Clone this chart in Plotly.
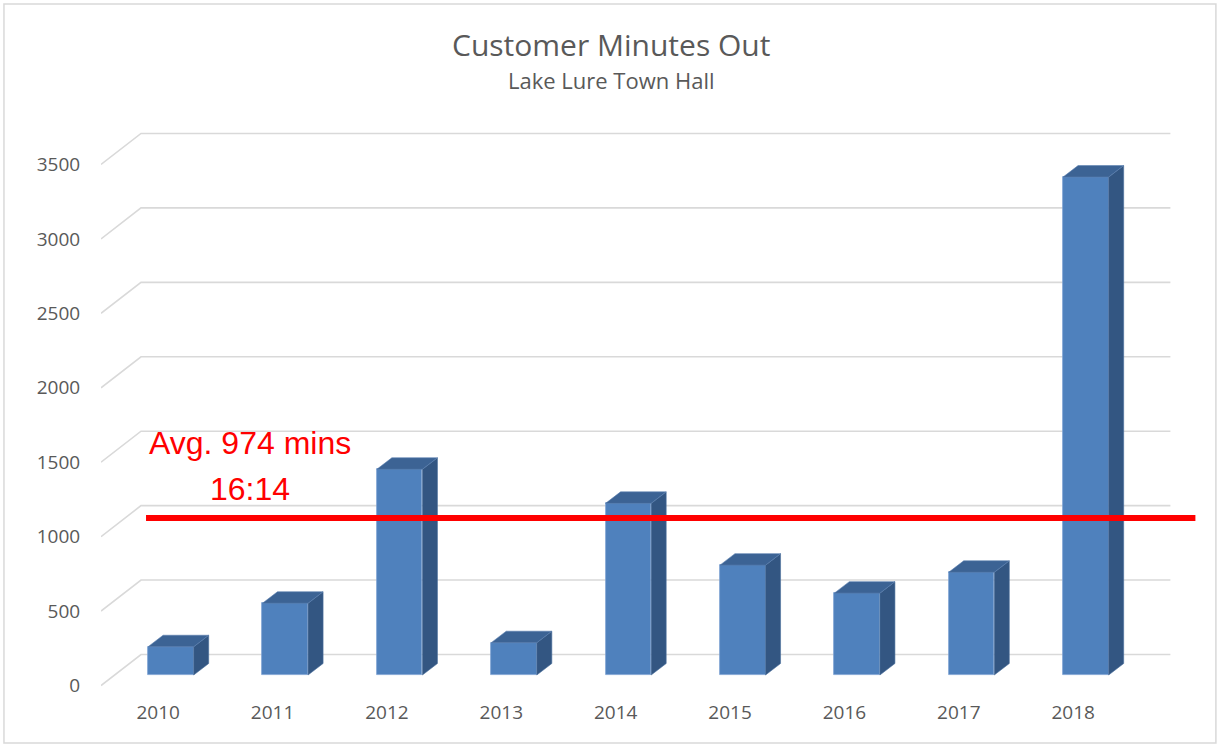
import plotly.graph_objects as go

# ---------------- data ----------------
years = ["2010", "2011", "2012", "2013", "2014", "2015", "2016", "2017", "2018"]
minutes = [190, 482, 1382, 217, 1153, 738, 550, 690, 3345]
y_ticks = [0, 500, 1000, 1500, 2000, 2500, 3000, 3500]
avg_label = "Avg. 974 mins"
avg_time = "16:14"
avg_line_value = 1125
title_text = "Customer Minutes Out"
subtitle_text = "Lake Lure Town Hall"

# ---------------- geometry (pixels) ----------------
W, H = 1217, 746
L, R = 101, 1198.6
T, B = 100, 699
PX_X = 114.33          # pixels per category
PX_Y = 0.14886         # pixels per value unit
Y0_PIX = 685.5         # pixel of value 0 on the front scale

x_range = [-0.5, -0.5 + (R - L) / PX_X]
y_range = [(Y0_PIX - B) / PX_Y, (Y0_PIX - T) / PX_Y]

GRID_DX, GRID_DY = 40 / PX_X, 31 / PX_Y
GRID_END = (1170 - L) / PX_X - 0.5
BAR_DX, BAR_DY = 12.7 / PX_X, 10.5 / PX_Y
BAR_W = 45.6 / PX_X
SIDE_DX, SIDE_DY = 15 / PX_X, 11.5 / PX_Y


def px_to_paper_x(p):
    return (p - L) / (R - L)


def px_to_paper_y(p):
    return (B - p) / (B - T)


FRONT = "#4F81BD"
SIDE = "#335682"
TOP = "#3C6394"
GRID = "#D9D9D9"
TEXT = "#595959"
FONT = "Open Sans, Lato, sans-serif"
RED_FONT = "Liberation Sans, Arial, sans-serif"

fig = go.Figure()

# side faces and top faces of the 3D bars
side_x, side_y, top_x, top_y = [], [], [], []
for i, v in enumerate(minutes):
    xr = i + BAR_DX + BAR_W / 2
    xl = xr - BAR_W
    b = BAR_DY
    t = BAR_DY + v
    side_x += [xr, xr + SIDE_DX, xr + SIDE_DX, xr, xr, None]
    side_y += [b, b + SIDE_DY, t + SIDE_DY, t, b, None]
    top_x += [xl, xr, xr + SIDE_DX, xl + SIDE_DX, xl, None]
    top_y += [t, t, t + SIDE_DY, t + SIDE_DY, t, None]

fig.add_trace(go.Scatter(x=side_x, y=side_y, mode="lines", fill="toself",
                         fillcolor=SIDE, line=dict(color="#4a6f9c", width=0.6),
                         hoverinfo="skip", showlegend=False))
fig.add_trace(go.Scatter(x=top_x, y=top_y, mode="lines", fill="toself",
                         fillcolor=TOP, line=dict(color="#5a80b0", width=0.6),
                         hoverinfo="skip", showlegend=False))

# front faces
fig.add_trace(go.Bar(
    x=[i + BAR_DX for i in range(len(years))],
    y=minutes,
    base=BAR_DY,
    width=BAR_W,
    marker=dict(color=FRONT, line=dict(color="#7DA2D2", width=0.8)),
    showlegend=False,
    hovertemplate="%{customdata}: %{y}<extra></extra>",
    customdata=years,
))

shapes = []
# 3D gridlines (front diagonal + back wall line)
for v in y_ticks:
    shapes.append(dict(
        type="path", xref="x", yref="y", layer="below",
        path=f"M {-0.5},{v} L {-0.5 + GRID_DX},{v + GRID_DY} L {GRID_END},{v + GRID_DY}",
        line=dict(color=GRID, width=1.6),
    ))

# average line
shapes.append(dict(
    type="line", xref="x", yref="y", layer="above",
    x0=(146 - L) / PX_X - 0.5, x1=(1195 - L) / PX_X - 0.5,
    y0=avg_line_value, y1=avg_line_value,
    line=dict(color="#FF0000", width=6),
))

# chart border
shapes.append(dict(
    type="rect", xref="paper", yref="paper", layer="below",
    x0=px_to_paper_x(4), x1=px_to_paper_x(1215.5),
    y0=px_to_paper_y(743), y1=px_to_paper_y(4),
    line=dict(color=GRID, width=1.5), fillcolor="rgba(0,0,0,0)",
))

annotations = [
    dict(text=title_text, xref="paper", yref="paper",
         x=px_to_paper_x(611), y=px_to_paper_y(45), showarrow=False,
         xanchor="center", yanchor="middle",
         font=dict(family=FONT, size=30, color=TEXT)),
    dict(text=subtitle_text, xref="paper", yref="paper",
         x=px_to_paper_x(611), y=px_to_paper_y(80), showarrow=False,
         xanchor="center", yanchor="middle",
         font=dict(family=FONT, size=22, color=TEXT)),
    dict(text=avg_label, xref="paper", yref="paper",
         x=px_to_paper_x(250), y=px_to_paper_y(443), showarrow=False,
         xanchor="center", yanchor="middle",
         font=dict(family=RED_FONT, size=32, color="#FF0000")),
    dict(text=avg_time, xref="paper", yref="paper",
         x=px_to_paper_x(250), y=px_to_paper_y(489), showarrow=False,
         xanchor="center", yanchor="middle",
         font=dict(family=RED_FONT, size=32, color="#FF0000")),
]

fig.update_layout(
    width=W, height=H,
    margin=dict(l=L, r=W - R, t=T, b=H - B, pad=0),
    paper_bgcolor="white", plot_bgcolor="white",
    shapes=shapes, annotations=annotations,
    bargap=0, showlegend=False,
    xaxis=dict(
        range=x_range, tickmode="array",
        tickvals=list(range(len(years))), ticktext=years,
        showgrid=False, zeroline=False, showline=False,
        ticks="", ticklen=0,
        tickfont=dict(family=FONT, size=19, color=TEXT),
        fixedrange=True,
    ),
    yaxis=dict(
        range=y_range, tickmode="array",
        tickvals=y_ticks, ticktext=[str(v) for v in y_ticks],
        showgrid=False, zeroline=False, showline=False,
        ticks="outside", ticklen=16, tickcolor="rgba(0,0,0,0)",
        tickfont=dict(family=FONT, size=19, color=TEXT),
        fixedrange=True,
    ),
)

fig.write_html("out.html", config={"displayModeBar": False},
               post_script="document.body.style.margin='0px';")
